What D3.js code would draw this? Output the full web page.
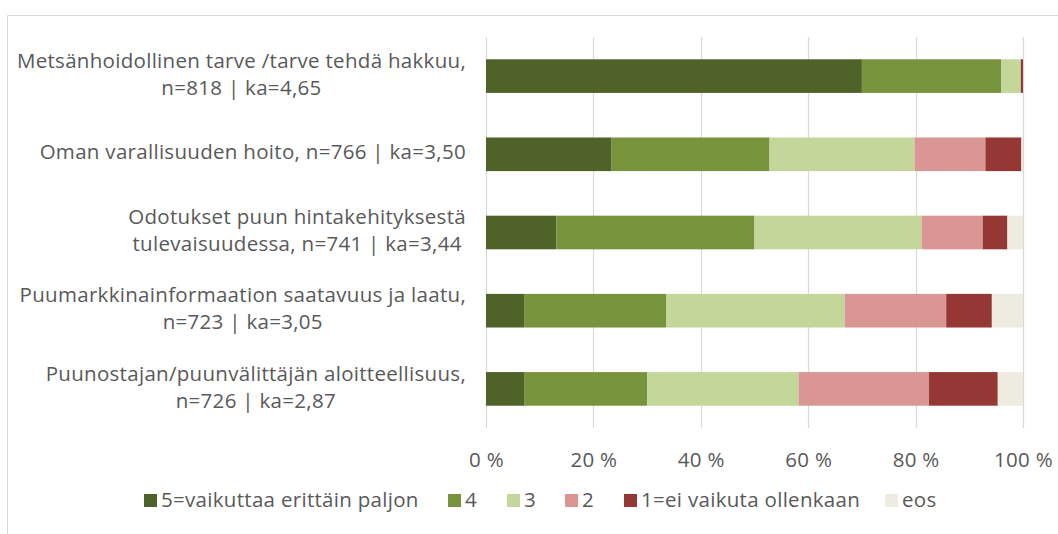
<!DOCTYPE html>
<html lang="fi">
<head>
<meta charset="UTF-8">
<title>Vaikuttavat tekijät</title>
<script src="https://d3js.org/d3.v7.min.js"></script>
<style>
    body { margin: 0; background: #fff; }
    svg text { font-family: "Open Sans", "Noto Sans", Arial, sans-serif; fill: #595959; font-size: 20.5px; letter-spacing: 0.3px; }
</style>
</head>
<body>
<svg id="chart" width="1058" height="534"></svg>
<script>
// categories (label lines)
const categories = [
    ["Metsänhoidollinen tarve /tarve tehdä hakkuu,", "n=818 | ka=4,65"],
    ["Oman varallisuuden hoito, n=766 | ka=3,50"],
    ["Odotukset puun hintakehityksestä", "tulevaisuudessa, n=741 | ka=3,44"],
    ["Puumarkkinainformaation saatavuus ja laatu,", "n=723 | ka=3,05"],
    ["Puunostajan/puunvälittäjän aloitteellisuus,", "n=726 | ka=2,87"]
];
const seriesNames = ["5=vaikuttaa erittäin paljon", "4", "3", "2", "1=ei vaikuta ollenkaan", "eos"];
const s5  = [70.0, 23.4, 13.1, 7.2, 7.2];
const s4  = [25.9, 29.4, 36.9, 26.4, 22.8];
const s3  = [3.7, 27.0, 31.1, 33.2, 28.2];
const s2  = [0.0, 13.2, 11.4, 18.9, 24.3];
const s1  = [0.4, 6.7, 4.6, 8.5, 12.8];
const eos = [0.0, 0.3, 2.9, 5.8, 4.7];
const xTicks = [0, 20, 40, 60, 80, 100];
const colors = ["#4F6228", "#77933C", "#C4D79B", "#D99694", "#953735", "#EEECE1"];

const svg = d3.select("#chart");

// outer frame
svg.append("path")
    .attr("d", "M7.5,534 V15.5 H1058")
    .attr("fill", "none")
    .attr("stroke", "#D9D9D9");

const margin = { left: 486, right: 35, top: 37, bottom: 106 };
const width = 1058 - margin.left - margin.right;
const height = 534 - margin.top - margin.bottom;

const g = svg.append("g").attr("transform", `translate(${margin.left},${margin.top})`);

const x = d3.scaleLinear().domain([0, 100]).range([0, width]);
const y = d3.scaleBand().domain(d3.range(categories.length)).range([0, height]).paddingInner(0.57).paddingOuter(0.285);

// gridlines
g.selectAll(".grid").data(xTicks).join("line")
    .attr("x1", d => Math.round(x(d)) + 0.5).attr("x2", d => Math.round(x(d)) + 0.5)
    .attr("y1", 0).attr("y2", height)
    .attr("stroke", "#D9D9D9").attr("stroke-width", 1.2);

// stacked data
const rows = categories.map((c, i) => ({ s5: s5[i], s4: s4[i], s3: s3[i], s2: s2[i], s1: s1[i], eos: eos[i] }));
const keys = ["s5", "s4", "s3", "s2", "s1", "eos"];
const stacked = d3.stack().keys(keys)(rows);

g.selectAll(".series").data(stacked).join("g")
    .attr("fill", (d, i) => colors[i])
    .selectAll("rect").data(d => d).join("rect")
    .attr("x", d => x(d[0]))
    .attr("width", d => Math.max(0, x(d[1]) - x(d[0])))
    .attr("y", (d, i) => y(i))
    .attr("height", y.bandwidth());

// x axis labels
const xAxis = g.append("g").attr("transform", `translate(0,${height})`)
    .call(d3.axisBottom(x).tickValues(xTicks).tickFormat(d => d + " %").tickSize(0).tickPadding(24));
xAxis.select(".domain").remove();
xAxis.selectAll("text").attr("fill", "#595959").style("font-size", "20.5px").style("font-family", null);

// category labels: lines centred within block, block right-aligned
const labelRight = 466;
const lineH = 27;
categories.forEach((lines, i) => {
    const cy = margin.top + y(i) + y.bandwidth() / 2;
    const t = svg.append("text").attr("text-anchor", "middle");
    const spans = lines.map((ln, j) => t.append("tspan")
        .attr("y", cy + (j - (lines.length - 1) / 2) * lineH - 2)
        .attr("dy", "0.35em")
        .text(ln));
    const maxW = d3.max(spans, s => s.node().getComputedTextLength());
    spans.forEach(s => s.attr("x", labelRight - maxW / 2));
});

// legend
const legendX = [144, 448, 507, 565, 624, 885];
const legend = svg.append("g");
seriesNames.forEach((name, i) => {
    legend.append("rect").attr("x", legendX[i]).attr("y", 494).attr("width", 13).attr("height", 13).attr("fill", colors[i]);
    legend.append("text").attr("x", legendX[i] + 17).attr("y", 500).attr("dy", "0.35em").text(name);
});
</script>
</body>
</html>
